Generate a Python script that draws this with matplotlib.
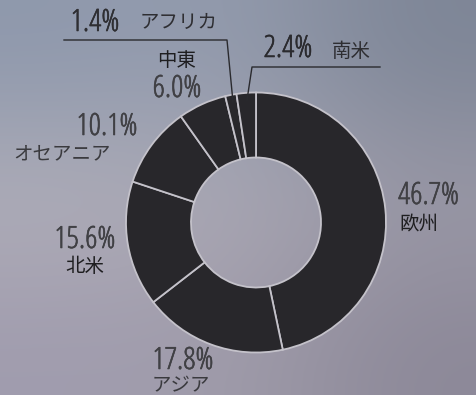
import numpy as np
import matplotlib.pyplot as plt
import matplotlib.patheffects as pe

regions = ['欧州', 'アジア', '北米', 'オセアニア', '中東', 'アフリカ', '南米']
shares = [46.7, 17.8, 15.6, 10.1, 6.0, 1.4, 2.4]

W, H = 476, 395
fig = plt.figure(figsize=(W / 100, H / 100), dpi=100)

# background: soft blue-grey to lavender gradient
bg = np.array([
    [[0x8e, 0x98, 0xac], [0x94, 0x9c, 0xae], [0x7d, 0x85, 0x96]],
    [[0xb2, 0xb0, 0xba], [0xac, 0xa9, 0xb5], [0x9c, 0x9a, 0xa8]],
    [[0xa0, 0x9c, 0xae], [0xa0, 0x9c, 0xaa], [0x8c, 0x88, 0x98]],
]) / 255.0
bax = fig.add_axes([0, 0, 1, 1])
bax.imshow(bg, extent=[0, W, 0, H], interpolation='bicubic', aspect='auto')
bax.axis('off')

ax = fig.add_axes([0, 0, 1, 1])
ax.axis('off')

cx, cy, r = 256, H - 222.5, 130
ax.pie(shares, center=(cx, cy), radius=r, startangle=90, counterclock=False,
       colors=['#28272b'] * len(shares),
       wedgeprops=dict(width=r * 0.5, edgecolor='#c4c2ca', linewidth=1.3))
ax.set_xlim(0, W)
ax.set_ylim(0, H)
ax.set_aspect('auto')

jp_font = ['Noto Sans CJK JP', 'DejaVu Sans']


def pct(x, y, v, color='#404044', ha='center'):
    ax.text(x, H - y, f'{v:.1f}%', fontsize=22, family='Open Sans',
            fontstretch='condensed', fontweight='light',
            color=color, ha=ha, va='center',
            path_effects=[pe.withStroke(linewidth=0.4, foreground=color)])


def name(x, y, s, color='#1e1e20', ha='center'):
    ax.text(x, H - y, s, fontsize=14, family=jp_font,
            color=color, ha=ha, va='center')


# 欧州
pct(398, 196, shares[0], ha='left')
name(399, 225, regions[0], ha='left')
# アジア
pct(183, 361, shares[1])
name(181, 386, regions[1], color='#3a3a3e')
# 北米
pct(85, 240, shares[2])
name(85, 267, regions[2])
# オセアニア
pct(107, 127, shares[3])
name(62, 154, regions[3], color='#3a3a3e')
# 中東
name(177, 61, regions[4])
pct(177, 89, shares[4])
# アフリカ
pct(95, 23, shares[5], color='#2e2e32')
name(179, 22, regions[5], color='#2e2e32')
# 南米
pct(288, 49, shares[6], color='#2a2a2e')
name(351, 51, regions[6], color='#2e2e32')

# leader lines for the two thin slices
ax.plot([64, 227, 233], [H - 40, H - 40, H - 102], color='#2a2a2e', lw=1)
ax.plot([380, 252, 247], [H - 67, H - 67, H - 100], color='#2a2a2e', lw=1)

fig.savefig('out.png', dpi=100)
